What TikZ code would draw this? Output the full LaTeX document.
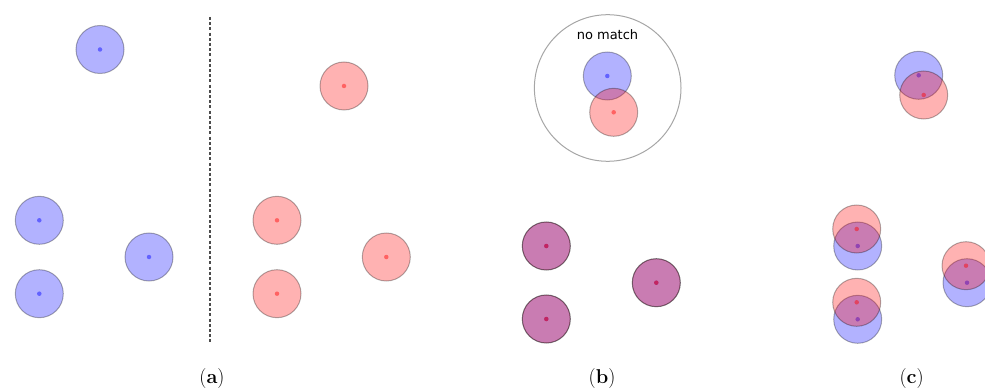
\documentclass[tikz,border=0pt]{standalone}
\usepackage{fontspec}
\newfontfamily\labelsans{DejaVu Sans}
\begin{document}
\begin{tikzpicture}[x=1pt,y=-1pt,
  disc/.style={circle,draw=black,draw opacity=0.3,line width=1pt,minimum size=48pt,inner sep=0pt,fill opacity=0.3},
  bdisc/.style={disc,fill=blue},
  rdisc/.style={disc,fill=red},
  bdot/.style={circle,fill=blue,fill opacity=0.45,minimum size=4.5pt,inner sep=0pt},
  rdot/.style={circle,fill=red,fill opacity=0.45,minimum size=4.5pt,inner sep=0pt},
  sublabel/.style={font=\fontsize{20}{24}\selectfont,inner sep=0pt}]
\useasboundingbox (0,0) rectangle (985,390);
% (a)
\foreach \n/\x/\y in {a1/100/49.5, a2/39.3/220.3, a3/39.3/293.7, a4/149/257}{
  \node[bdisc] (\n) at (\x,\y) {};
  \node[bdot] (\n d) at (\n.center) {};
}
\coordinate (dtop) at (209.7,17);
\coordinate (dbot) at (209.7,342);
\draw[line width=1.6pt,dash pattern=on 3pt off 2.2pt,black!70] (dtop) -- (dbot);
\foreach \n/\x/\y in {r1/344/86, r2/277/220.3, r3/277/293.7, r4/386.3/257}{
  \node[rdisc] (\n) at (\x,\y) {};
  \node[rdot] (\n d) at (\n.center) {};
}
\node[sublabel] (la) at (212,378.5) {(\textbf{a})};
% (b)
\node[circle,draw=black!35,line width=1pt,minimum size=146.6pt,inner sep=0pt] (big) at (607.7,88) {};
\node[font=\labelsans\fontsize{13}{15}\selectfont,inner sep=0pt] (nm) at (607.5,34.5) {no match};
\node[bdisc] (b0) at (607.3,76) {};
\node[bdot] (b0d) at (b0.center) {};
\node[rdisc] (c0) at (613.7,112.3) {};
\node[rdot] (c0d) at (c0.center) {};
\foreach \n/\x/\y in {p1/546.3/246, p2/546.3/319, p3/656.3/282.7}{
  \node[bdisc] (\n b) at (\x,\y) {};
  \node[bdot] (\n bd) at (\n b.center) {};
  \node[rdisc] (\n r) at (\x,\y) {};
  \node[rdot] (\n rd) at (\n r.center) {};
}
\node[sublabel] (lb) at (602,378.5) {(\textbf{b})};
% (c)
\foreach \n/\bx/\by/\rx/\ry in {q1/918.7/75.3/923.7/95, q2/857.7/246/856.7/229, q3/857.7/319.3/856.7/302.3, q4/967/282.7/966/265.7}{
  \node[bdisc] (\n b) at (\bx,\by) {};
  \node[bdot] (\n bd) at (\n b.center) {};
  \node[rdisc] (\n r) at (\rx,\ry) {};
  \node[rdot] (\n rd) at (\n r.center) {};
}
\node[sublabel] (lc) at (911.7,378.5) {(\textbf{c})};
\end{tikzpicture}
\end{document}
